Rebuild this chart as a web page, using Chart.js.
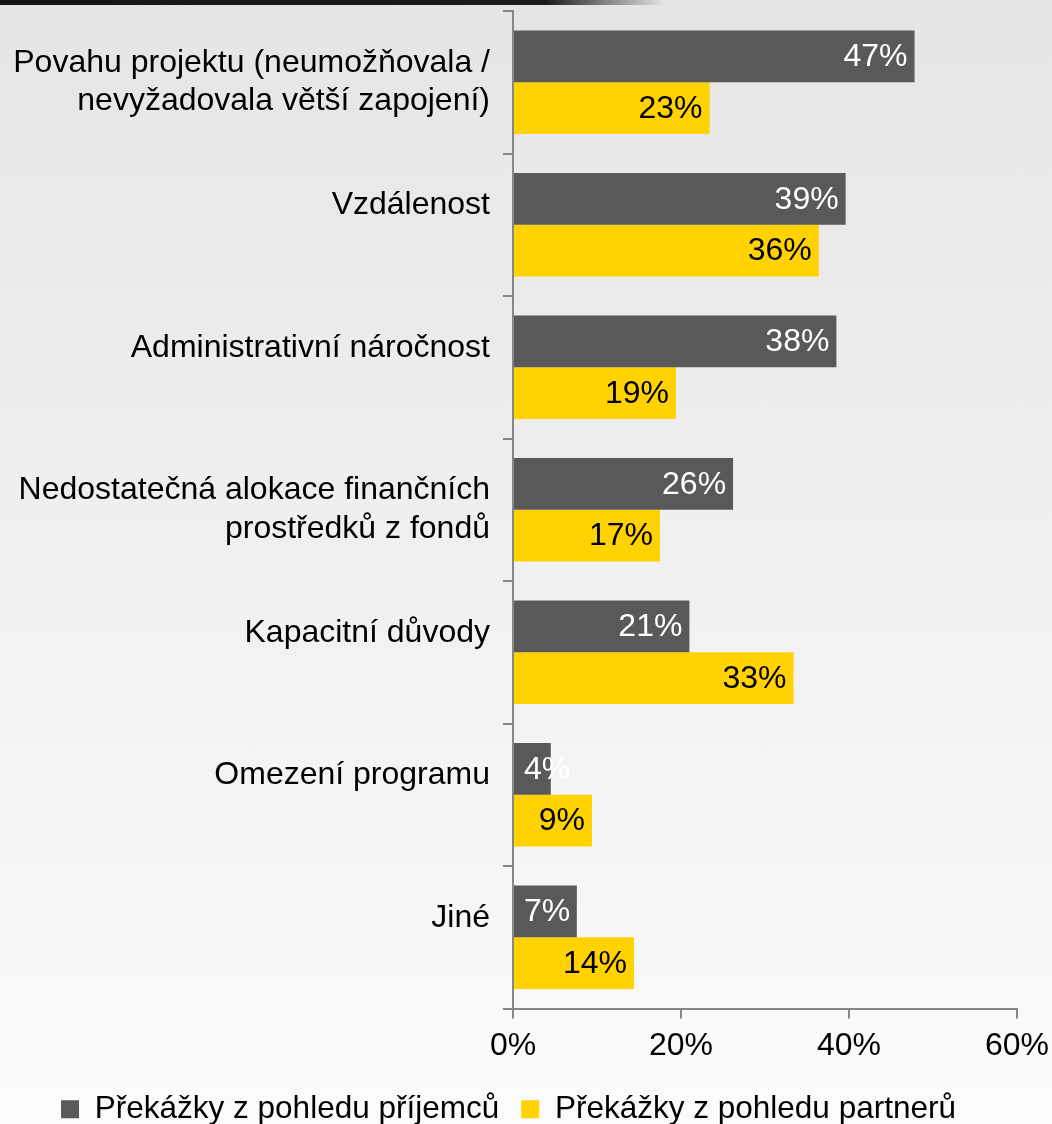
<!DOCTYPE html>
<html>
<head>
<meta charset="utf-8">
<script src="https://cdn.jsdelivr.net/npm/chart.js@4.4.1/dist/chart.umd.min.js"></script>
<style>
  html, body { margin: 0; padding: 0; width: 1052px; height: 1124px; overflow: hidden; }
  body { background: linear-gradient(#e5e5e5, #fbfbfb); position: relative; }
  #topbar { position: absolute; left: 0; top: 0; width: 665px; height: 5px; z-index: 2;
            background: linear-gradient(to right, #151515 0%, #1c1c1c 82%, #777 90%, rgba(200,200,200,0) 100%); }
  #c { position: absolute; left: 0; top: 0; }
</style>
</head>
<body>
<div id="topbar"></div>
<canvas id="c" width="1052" height="1135"></canvas>
<script>
// bar chart: obstacles seen by recipients vs partners

const FONT = "'Liberation Sans', Arial, sans-serif";
const FS = 32;
const AXIS = '#878787';

const categories = [
  ['Povahu projektu (neumožňovala /', 'nevyžadovala větší zapojení)'],
  'Vzdálenost',
  'Administrativní náročnost',
  ['Nedostatečná alokace finančních', 'prostředků z fondů'],
  'Kapacitní důvody',
  'Omezení programu',
  'Jiné'
];
const seriesNames = ['Překážky z pohledu příjemců', 'Překážky z pohledu partnerů'];
const recipients = [47.8, 39.6, 38.5, 26.2, 21.0, 4.5, 7.6];
const partners   = [23.4, 36.4, 19.4, 17.5, 33.4, 9.4, 14.4];
const xTicks = [0, 20, 40, 60];

const colors = ['#595959', '#FFD200'];
const labelColors = ['#ffffff', '#000000'];

// values printed at the inner end of each bar
const barLabels = {
  id: 'barLabels',
  afterDatasetsDraw(chart) {
    const ctx = chart.ctx;
    ctx.save();
    ctx.font = FS + 'px ' + FONT;
    ctx.textAlign = 'right';
    ctx.textBaseline = 'middle';
    chart.data.datasets.forEach((ds, di) => {
      chart.getDatasetMeta(di).data.forEach((bar, i) => {
        const txt = Math.floor(ds.data[i]) + '%';
        const w = ctx.measureText(txt).width;
        const x = Math.max(bar.x - 7, bar.base + 10 + w);
        ctx.fillStyle = labelColors[di];
        ctx.fillText(txt, x, bar.y + 1);
      });
    });
    ctx.restore();
  }
};

new Chart(document.getElementById('c'), {
  type: 'bar',
  data: {
    labels: categories,
    datasets: [
      { label: seriesNames[0], data: recipients, backgroundColor: colors[0] },
      { label: seriesNames[1], data: partners, backgroundColor: colors[1] }
    ].map(d => Object.assign(d, { barPercentage: 1, categoryPercentage: 0.725 }))
  },
  options: {
    indexAxis: 'y',
    responsive: false,
    animation: false,
    layout: { padding: { top: 11, right: 35, left: 0, bottom: 0 } },
    plugins: {
      tooltip: { enabled: false },
      legend: {
        position: 'bottom',
        labels: {
          font: { family: FONT, size: 31.5 },
          color: '#000',
          boxWidth: 18,
          boxHeight: 18,
          padding: 22
        }
      }
    },
    scales: {
      x: {
        min: 0,
        max: 60,
        afterFit(s) { s.height = 63; s.paddingLeft = 0; s.paddingRight = 0; },
        afterBuildTicks(s) { s.ticks = xTicks.map(v => ({ value: v })); },
        border: { color: AXIS, width: 2 },
        grid: { drawOnChartArea: false, color: AXIS, lineWidth: 2, tickLength: 10 },
        ticks: {
          font: { family: FONT, size: FS },
          color: '#000',
          padding: 8,
          maxRotation: 0,
          callback: v => v + '%'
        }
      },
      y: {
        afterFit(s) { s.width = 513; s.paddingTop = 0; s.paddingBottom = 0; },
        border: { color: AXIS, width: 2 },
        grid: { offset: true, drawOnChartArea: false, color: AXIS, lineWidth: 2, tickLength: 10 },
        ticks: {
          font: { family: FONT, size: FS },
          color: '#000',
          padding: 13,
          autoSkip: false,
          callback(v) {
            const l = this.getLabelForValue(v);
            return Array.isArray(l) ? l : [l, ''];
          }
        }
      }
    }
  },
  plugins: [barLabels]
});
</script>
</body>
</html>
